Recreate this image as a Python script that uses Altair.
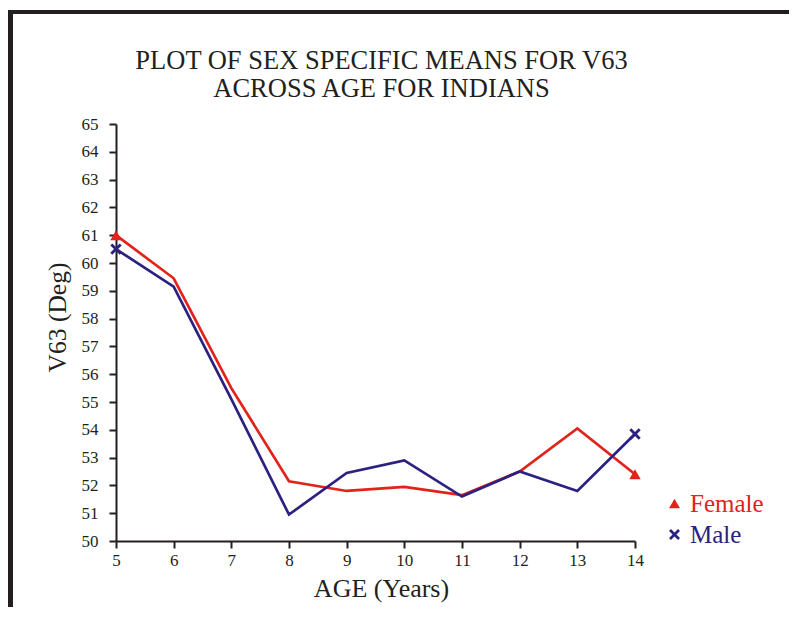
import altair as alt
import pandas as pd

ages = [5, 6, 7, 8, 9, 10, 11, 12, 13, 14]
female = [61.0, 59.45, 55.5, 52.15, 51.8, 51.95, 51.65, 52.5, 54.05, 52.4]
male = [60.5, 59.15, 55.1, 50.95, 52.45, 52.9, 51.6, 52.5, 51.8, 53.85]
series = ["Female", "Male"]
colors = ["#e2231a", "#2b2180"]
x_ticks = list(range(5, 15))
y_ticks = list(range(50, 66))

rows = []
for a, f, m in zip(ages, female, male):
    rows.append({"age": a, "value": f, "sex": "Female"})
    rows.append({"age": a, "value": m, "sex": "Male"})
df = pd.DataFrame(rows)

FONT = "Liberation Serif"
INK = "#231f20"
XPATH = "M-1,-0.65L-0.65,-1L0,-0.35L0.65,-1L1,-0.65L0.35,0L1,0.65L0.65,1L0,0.35L-0.65,1L-1,0.65L-0.35,0Z"

W, H = 519, 417
PL, PT, PR, PB = 108, 116, 154, 66

common_axis = dict(grid=False, domainColor=INK, domainWidth=2, tickColor=INK,
                   tickWidth=2, tickSize=7, labelFont=FONT, labelFontSize=17,
                   labelColor=INK, labelFlush=False, labelOverlap=False, format="d",
                   titleFont=FONT, titleFontWeight="normal",
                   titleColor=INK, titleAlign="center", titleAnchor="start")

xs = alt.X("age:Q", scale=alt.Scale(domain=[5, 14], nice=False),
           axis=alt.Axis(values=x_ticks, title="AGE (Years)", labelPadding=4,
                         titleFontSize=26,
                         titleX=265, titleY=47, titleBaseline="middle", **common_axis))
ys = alt.Y("value:Q", scale=alt.Scale(domain=[50, 65], nice=False, zero=False),
           axis=alt.Axis(values=y_ticks, title="V63 (Deg)", labelPadding=11,
                         titleFontSize=25.5,
                         titleX=-59, titleY=193, titleAngle=-90,
                         titleBaseline="middle", **common_axis))

color = alt.Color("sex:N", scale=alt.Scale(domain=series, range=colors),
                  legend=alt.Legend(title=None, orient="none", legendX=546, legendY=367,
                                    labelFont=FONT, labelFontSize=25,
                                    labelColor={"expr": "datum.value == 'Female' ? '#e2231a' : '#2b2180'"},
                                    symbolSize=120, rowPadding=5, labelOffset=3,
                                    symbolStrokeWidth=0, symbolOpacity=1))
shape = alt.Shape("sex:N", scale=alt.Scale(domain=series, range=["triangle-up", XPATH]),
                  legend=None)

lines = alt.Chart(df).mark_line(strokeWidth=2.7).encode(x=xs, y=ys, color=color, detail="sex:N")
pts = alt.Chart(df).transform_filter(
    (alt.datum.age == ages[0]) | (alt.datum.age == ages[-1])
).mark_point(filled=True, opacity=1, size=130, strokeWidth=0).encode(
    x=xs, y=ys, color=color, shape=shape)

left_border = alt.Chart(df).mark_rule(color=INK, strokeWidth=4).encode(
    x=alt.value(-105.5), y=alt.value(-112), y2=alt.value(H + PB))
top_border = alt.Chart(df).mark_rule(color=INK, strokeWidth=4).encode(
    x=alt.value(-107.5), x2=alt.value(W + PR), y=alt.value(-112))

chart = alt.layer(left_border, top_border, lines, pts).properties(
    width=W, height=H,
    title=alt.Title(["PLOT OF SEX SPECIFIC MEANS FOR V63", "ACROSS AGE FOR INDIANS"],
                    font=FONT, fontSize=26.5, fontWeight="normal", color=INK,
                    anchor="middle", dx=6, dy=92, offset=0, lineHeight=28),
    autosize=alt.AutoSizeParams(type="none"),
    padding={"left": PL, "top": PT, "right": PR, "bottom": PB},
    background="white",
).configure_view(stroke=None)

chart.save("out.html", embed_options={"renderer": "svg", "actions": False})
